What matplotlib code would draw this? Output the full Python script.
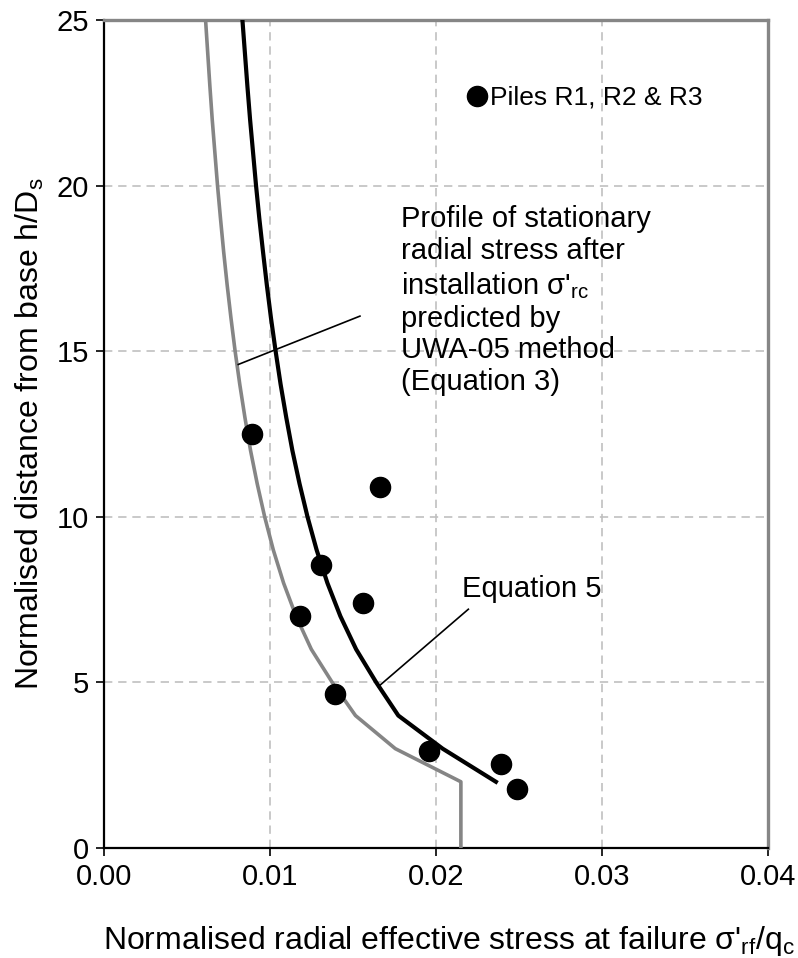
import matplotlib
matplotlib.use("Agg")
import matplotlib.pyplot as plt

plt.rcParams['font.family'] = ['Liberation Sans', 'DejaVu Sans']
plt.rcParams['mathtext.fontset'] = 'custom'
plt.rcParams['mathtext.rm'] = 'Liberation Sans'

# measured pile data (x = sigma'rf/qc, y = h/Ds)
piles_x = [0.0089, 0.0166, 0.0131, 0.0156, 0.0118, 0.0139, 0.0196, 0.0239, 0.0249]
piles_y = [12.5, 10.9, 8.56, 7.40, 7.0, 4.66, 2.93, 2.54, 1.77]

# UWA-05 stationary radial stress profile (grey)
uwa_h = [0, 2, 3, 4, 5, 6, 7, 8, 9, 10, 11, 12, 13, 14, 15, 16, 17, 18, 19, 20, 21, 22, 23, 24, 25]
uwa_x = [0.02150, 0.02150, 0.01755, 0.01515, 0.01375, 0.01249, 0.01157, 0.01082, 0.01020,
         0.00968, 0.00923, 0.00883, 0.00849, 0.00818, 0.00790, 0.00765, 0.00742, 0.00721,
         0.00702, 0.00684, 0.00668, 0.00652, 0.00638, 0.00625, 0.00612]

# Equation 5 profile (black)
eq5_h = [2, 3, 4, 5, 6, 7, 8, 9, 10, 11, 12, 13, 14, 15, 16, 17, 18, 19, 20, 21, 22, 23, 24, 25]
eq5_x = [0.02361, 0.02040, 0.01773, 0.01640, 0.01519, 0.01424, 0.01346, 0.01281, 0.01226,
         0.01178, 0.01135, 0.01098, 0.01064, 0.01034, 0.01006, 0.00981, 0.00958, 0.00936,
         0.00916, 0.00898, 0.00880, 0.00864, 0.00849, 0.00834]

xticks = [0.00, 0.01, 0.02, 0.03, 0.04]
yticks = [0, 5, 10, 15, 20, 25]

fig = plt.figure(figsize=(7.98, 9.58), dpi=100)
ax = fig.add_axes([0.1303, 0.1148, 0.8321, 0.8643])

ax.plot(uwa_x, uwa_h, color='#858585', lw=2.6, zorder=3)
ax.plot(eq5_x, eq5_h, color='black', lw=3.0, zorder=4)
ax.plot(piles_x, piles_y, 'o', color='black', ms=14.5, ls='none', zorder=5,
        label='Piles R1, R2 & R3')

ax.set_xlim(0, 0.04)
ax.set_ylim(0, 25)
ax.set_xticks(xticks)
ax.set_yticks(yticks)
ax.set_xticklabels(['%.2f' % v for v in xticks])
ax.set_yticklabels([str(v) for v in yticks])
ax.tick_params(direction='out', length=6, width=1.2, labelsize=21, pad=5)

ax.grid(True, color='#c0c0c0', ls=(0, (5, 3.5)), lw=1.2)
ax.set_axisbelow(True)

for s in ['left', 'bottom']:
    ax.spines[s].set_color('black')
    ax.spines[s].set_linewidth(1.6)
for s in ['top', 'right']:
    ax.spines[s].set_color('#868686')
    ax.spines[s].set_linewidth(2.4)

ax.set_xlabel("Normalised radial effective stress at failure σ'$_\\mathregular{rf}$/q$_\\mathregular{c}$",
              fontsize=23)
ax.set_ylabel("Normalised distance from base h/D$_\\mathregular{s}$", fontsize=23)
ax.xaxis.set_label_coords(0.52, -0.092)
ax.yaxis.set_label_coords(-0.088, 0.5)

# annotations
ax.plot([0.00809, 0.01542], [14.6, 16.06], color='black', lw=1.2, zorder=6)
ax.text(0.01789, 19.4,
        "Profile of stationary\nradial stress after\ninstallation σ'$_\\mathregular{rc}$\npredicted by\nUWA-05 method\n(Equation 3)",
        fontsize=21, va='top', ha='left', linespacing=1.18)
ax.plot([0.01652, 0.02195], [4.87, 7.21], color='black', lw=1.2, zorder=6)
ax.text(0.02155, 7.58, "Equation 5", fontsize=21, va='baseline', ha='left')

ax.legend(loc='center left', bbox_to_anchor=(0.546, 0.906), frameon=False,
          fontsize=19, handlelength=0.8, handletextpad=0.1, borderpad=0, borderaxespad=0)

fig.savefig('out.png', dpi=100)
